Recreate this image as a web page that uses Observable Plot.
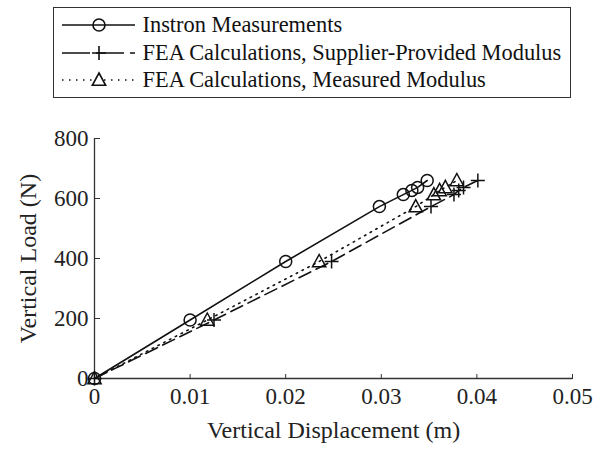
<!DOCTYPE html>
<html><head><meta charset="utf-8">
<script src="https://cdn.jsdelivr.net/npm/d3@7"></script>
<script src="https://cdn.jsdelivr.net/npm/@observablehq/plot@0.6"></script>
<style>
body{margin:0;background:#fff;font-family:"Liberation Serif","Times New Roman",serif;}
#wrap{position:relative;width:595px;height:450px;overflow:hidden;}
#legend{position:absolute;left:53px;top:7px;width:516px;height:89px;border:1.5px solid #333;box-sizing:content-box;}
.row{position:absolute;left:0;height:26px;display:flex;align-items:center;white-space:nowrap;}
.row svg{margin-left:7.5px;display:block;}
.row span{font-size:22.4px;margin-left:8px;color:#111;font-family:"Liberation Serif",serif;}
#chart{position:absolute;left:0;top:110px;}
#chart svg, #chart svg text{font-family:"Liberation Serif","Times New Roman",serif !important;}
#chart [aria-label="x-axis tick label"] text, #chart [aria-label="y-axis tick label"] text{font-size:23px;}
#chart [aria-label="x-axis label"] text, #chart [aria-label="y-axis label"] text{font-size:24px;}
</style></head><body>
<div id="wrap"><div id="legend"></div><div id="chart"></div></div>
<script>
// Data
const loadN = [0, 195, 390, 573, 613, 627, 637, 660];
const instronX = [0, 0.01, 0.02, 0.0298, 0.0323, 0.0332, 0.0338, 0.0348];
const supplierX = [0, 0.0125, 0.0248, 0.0352, 0.0376, 0.0381, 0.0386, 0.0401];
const measuredX = [0, 0.0118, 0.0235, 0.0336, 0.0355, 0.0361, 0.0367, 0.0379];
const seriesNames = ["Instron Measurements", "FEA Calculations, Supplier-Provided Modulus", "FEA Calculations, Measured Modulus"];
const xTicks = [0, 0.01, 0.02, 0.03, 0.04, 0.05];
const xTickLabels = ["0", "0.01", "0.02", "0.03", "0.04", "0.05"];
const yTicks = [0, 200, 400, 600, 800];
const yTickLabels = ["0", "200", "400", "600", "800"];
const xLabel = "Vertical Displacement (m)";
const yLabel = "Vertical Load (N)";

const toRows = xs => xs.map((x, i) => ({x, y: loadN[i]}));
const instron = toRows(instronX), supplier = toRows(supplierX), measured = toRows(measuredX);

const plusSymbol = {draw(ctx, size) { const r = Math.sqrt(size / Math.PI); ctx.moveTo(-r, 0); ctx.lineTo(r, 0); ctx.moveTo(0, -r); ctx.lineTo(0, r); }};
const triSymbol = {draw(ctx, size) { const r = Math.sqrt(size / Math.PI); ctx.moveTo(0, -r); ctx.lineTo(r * 0.95, r * 0.75); ctx.lineTo(-r * 0.95, r * 0.75); ctx.closePath(); }};

const ink = "#111";
const styles = [
  {dash: null, symbol: "circle", r: 6},
  {dash: "13,6", symbol: plusSymbol, r: 7},
  {dash: "1.5,5", symbol: triSymbol, r: 7}
];
const datasets = [instron, supplier, measured];
const noArrow = {labelArrow: "none"};

const chart = Plot.plot({
  width: 595, height: 340,
  marginTop: 28, marginBottom: 72, marginLeft: 94, marginRight: 23,
  style: {fontFamily: "Liberation Serif, serif", fontSize: "23px", color: "#222", background: "#fff"},
  x: {domain: [0, 0.05]},
  y: {domain: [0, 800]},
  marks: [
    Plot.ruleX([0], {stroke: "#333", strokeWidth: 1.3}),
    Plot.ruleY([0], {stroke: "#333", strokeWidth: 1.3}),
    // inward ticks
    Plot.axisX({anchor: "top", frameAnchor: "bottom", ticks: xTicks, tickSize: 5, tickFormat: () => "", stroke: "#333", label: null}),
    Plot.axisY({anchor: "right", frameAnchor: "left", ticks: yTicks, tickSize: 5, tickFormat: () => "", stroke: "#333", label: null}),
    // labels
    Plot.axisX({ticks: xTicks, tickFormat: d => xTickLabels[xTicks.indexOf(d)], tickSize: 0, tickPadding: 9, label: xLabel, labelAnchor: "center", labelOffset: 59, fontSize: 23, ...noArrow}),
    Plot.axisY({ticks: yTicks, tickFormat: d => yTickLabels[yTicks.indexOf(d)], tickSize: 0, tickPadding: 6, label: yLabel, labelAnchor: "center", labelOffset: 76, fontSize: 23, ...noArrow}),
    ...datasets.map((d, k) => Plot.line(d, {x: "x", y: "y", stroke: ink, strokeWidth: 1.6, strokeDasharray: styles[k].dash})),
    ...datasets.map((d, k) => Plot.dot(d, {x: "x", y: "y", symbol: styles[k].symbol, r: styles[k].r, stroke: ink, strokeWidth: 1.5, fill: "none"}))
  ]
});
document.getElementById("chart").append(chart);

// Legend
const legend = d3.select("#legend");
const rowTops = [3.5, 31.5, 58.5];
seriesNames.forEach((name, k) => {
  const row = legend.append("div").attr("class", "row").style("top", rowTops[k] + "px");
  const svg = row.append("svg").attr("width", 73).attr("height", 20);
  svg.append("line").attr("x1", 0).attr("x2", 73).attr("y1", 10).attr("y2", 10)
    .attr("stroke", ink).attr("stroke-width", 1.6).attr("stroke-dasharray", k === 1 ? "28,6" : k === 2 ? "1.5,5.5" : null);
  const sz = Math.PI * styles[k].r * styles[k].r;
  const sym = typeof styles[k].symbol === "string" ? d3.symbolCircle : styles[k].symbol;
  svg.append("path").attr("transform", "translate(37,10)")
    .attr("d", d3.symbol(sym, sz)())
    .attr("fill", k === 2 ? "#fff" : "none").attr("stroke", ink).attr("stroke-width", 1.6);
  row.append("span").text(name);
});
</script>
</body></html>
